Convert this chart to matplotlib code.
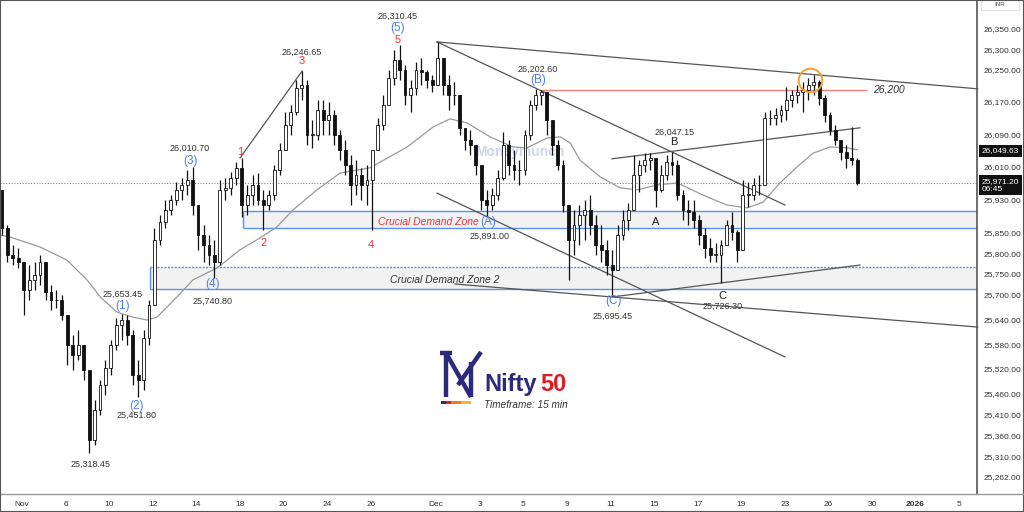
import matplotlib
matplotlib.use('Agg')
import matplotlib.pyplot as plt
import numpy as np
from matplotlib.ticker import FixedLocator, NullLocator
from matplotlib.lines import Line2D
from matplotlib.patches import Rectangle

plt.rcParams['font.family'] = ['Liberation Sans', 'DejaVu Sans']

# ---------------- data ----------------
BARS_PER_DAY = 4
first_day = -1            # trading-day index of first bar (Oct 31)
first_open = 25954

highs = [
    25954, 25868, 25820, 25813,
    25730, 25771, 25779, 25796,
    25779, 25723, 25711, 25699,
    25643, 25602, 25614, 25578,
    25506, 25446, 25494, 25542,
    25590, 25643, 25653.45, 25650,
    25614, 25542, 25614, 25686,
    25861, 25893, 25929, 25942,
    25973, 25983, 26003, 26010.7,
    25917, 25868, 25844, 25832,
    25978, 25983, 25998, 26022,
    26032, 25966, 25991, 25995,
    25954, 25954, 26015, 26069,
    26145, 26162, 26224, 26246.65,
    26224, 26125, 26175, 26175,
    26170, 26150, 26101, 26076,
    26039, 26027, 26008, 26015,
    26052, 26130, 26187, 26249,
    26298, 26310.45, 26261, 26224,
    26268, 26278, 26249, 26236,
    26318, 26278, 26236, 26219,
    26187, 26106, 26101, 26064,
    26015, 25954, 25959, 26003,
    26096, 26076, 26052, 26027,
    26101, 26175, 26202.6, 26200,
    26194, 26113, 26076, 26027,
    25917, 25905, 25917, 25929,
    25942, 25893, 25868, 25832,
    25808, 25868, 25905, 25922,
    26039, 26027, 26044, 26045,
    26032, 26015, 26039, 26047.15,
    26027, 25954, 25929, 25929,
    25893, 25861, 25837, 25825,
    25832, 25881, 25900, 25856,
    25978, 25973, 25983, 25991,
    26145, 26150, 26155, 26162,
    26207, 26199, 26212, 26219,
    26229, 26236, 26224, 26187,
    26145, 26113, 26076, 26064,
    26108, 26032,
]
lows = [
    25844, 25779, 25771, 25764,
    25650, 25686, 25711, 25723,
    25686, 25662, 25667, 25638,
    25530, 25518, 25542, 25494,
    25318.45, 25338, 25410, 25458,
    25506, 25566, 25590, 25578,
    25482, 25451.8, 25470, 25578,
    25779, 25820, 25861, 25893,
    25917, 25929, 25942, 25893,
    25808, 25779, 25771, 25740.8,
    25771, 25929, 25942, 25966,
    25888, 25893, 25917, 25917,
    25856, 25905, 25929, 25991,
    26052, 26089, 26138, 26175,
    26064, 26057, 26076, 26089,
    26089, 26064, 26027, 25991,
    25917, 25942, 25929, 25917,
    25856, 26052, 26101, 26162,
    26212, 26224, 26162, 26145,
    26187, 26212, 26204, 26194,
    26261, 26187, 26150, 26162,
    26089, 26052, 26039, 25991,
    25905, 25891.0, 25905, 25929,
    25978, 25991, 25978, 25966,
    25991, 26076, 26150, 26162,
    26089, 26039, 26003, 25900,
    25735, 25796, 25820, 25832,
    25844, 25796, 25779, 25747,
    25695.45, 25759, 25832, 25856,
    25905, 25949, 25998, 26003,
    25912, 25949, 25978, 25991,
    25929, 25881, 25868, 25861,
    25820, 25788, 25779, 25779,
    25726.3, 25820, 25832, 25779,
    25876, 25912, 25929, 25942,
    26052, 26113, 26113, 26120,
    26125, 26157, 26167, 26145,
    26175, 26187, 26162, 26120,
    26089, 26064, 26027, 26008,
    26015, 25966,
]
closes = [
    25861, 25796, 25788, 25779,
    25711, 25735, 25747, 25779,
    25706, 25686, 25686, 25650,
    25578, 25554, 25578, 25518,
    25350, 25422, 25482, 25523,
    25578, 25626, 25638, 25602,
    25506, 25494, 25595, 25674,
    25832, 25876, 25905, 25929,
    25954, 25966, 25978, 25917,
    25844, 25820, 25796, 25779,
    25954, 25959, 25983, 26008,
    25917, 25942, 25966, 25929,
    25917, 25942, 26003, 26052,
    26113, 26145, 26204, 26212,
    26089, 26089, 26150, 26125,
    26138, 26089, 26052, 26015,
    25966, 25991, 25966, 25978,
    26052, 26113, 26162, 26229,
    26273, 26249, 26187, 26204,
    26249, 26244, 26224, 26212,
    26278, 26212, 26187, 26187,
    26106, 26076, 26064, 26015,
    25929, 25917, 25942, 25983,
    26064, 26015, 26003, 26003,
    26089, 26162, 26187, 26194,
    26125, 26064, 26015, 25917,
    25832, 25868, 25893, 25905,
    25868, 25820, 25808, 25771,
    25759, 25844, 25881, 25905,
    25991, 26015, 26027, 26032,
    25954, 25991, 26022, 26015,
    25942, 25905, 25900, 25881,
    25844, 25813, 25796, 25796,
    25820, 25868, 25851, 25808,
    25942, 25942, 25966, 25966,
    26130, 26130, 26138, 26150,
    26175, 26187, 26194, 26199,
    26212, 26219, 26179, 26138,
    26101, 26076, 26047, 26032,
    26027, 25971.2,
]

# moving average (day index, price)
ma_days = [-0.96, -0.5, 0.87, 2.11, 3.03, 3.63, 4.41, 5.14, 5.78, 6.24, 7.16, 7.89,
           9.0, 10.05, 10.97, 11.75, 12.48, 13.58, 14.64, 16.02, 17.72, 18.91, 19.69,
           20.47, 21.52, 22.58, 23.22, 24.14, 24.74, 25.2, 25.65, 26.57, 27.49, 28.27,
           29.19, 30.11, 31.48, 32.4, 33.32, 34.05, 34.83, 35.61, 36.35, 37.13, 37.91, 38.37]
ma_vals = [25844, 25839, 25815, 25783, 25735, 25694, 25657, 25645, 25638, 25645, 25694, 25735,
           25764, 25808, 25837, 25864, 25905, 25954, 25995, 26008, 26059, 26108, 26128,
           26118, 26084, 26059, 26057, 26081, 26084, 26069, 26027, 25986, 25959, 25954,
           25966, 25971, 25937, 25917, 25910, 25924, 25971, 26010, 26044, 26059, 26057, 26052]
ma_last = 26049.63
last_price = 25971.20

# demand zones (start day, low, high)
zone1 = (10.19, 25861, 25902)
zone2 = (5.92, 25712, 25766)
level_26200 = 26200
level_start, level_end = 23.82, 38.82

# trend lines: ((day0, price0), (day1, price1))
trend_lines = [
    ((19.09, 26318), (43.9, 26202)),
    ((19.09, 26318), (35.06, 25917)),
    ((10.05, 26032), (12.90, 26246)),
    ((19.09, 25946), (35.06, 25549)),
    ((19.92, 25725), (43.9, 25621)),
    ((27.17, 25694), (38.50, 25771)),
    ((27.12, 26030), (38.50, 26106)),
]

# labels: (text, day, price, kind)
labels = [
    ('26,010.70', 7.76, 26056, 'num'), ('(3)', 7.80, 26025, 'blue'),
    ('1', 10.05, 26047, 'red'),
    ('26,246.65', 12.90, 26291, 'num'), ('3', 12.90, 26271, 'red'),
    ('2', 11.11, 25825, 'red'),
    ('25,653.45', 4.68, 25701, 'num'), ('(1)', 4.64, 25672, 'blue'),
    ('(2)', 5.32, 25431, 'blue'), ('25,451.80', 5.28, 25408, 'num'),
    ('25,318.45', 3.17, 25293, 'num'),
    ('(4)', 8.77, 25725, 'blue'), ('25,740.80', 8.77, 25682, 'num'),
    ('26,310.45', 17.30, 26382, 'num'), ('(5)', 17.30, 26352, 'blue'),
    ('5', 17.30, 26323, 'red'),
    ('4', 16.06, 25820, 'red'),
    ('26,202.60', 23.73, 26249, 'num'), ('(B)', 23.73, 26224, 'blue'),
    ('(A)', 21.43, 25876, 'blue'), ('25,891.00', 21.52, 25842, 'num'),
    ('26,047.15', 30.01, 26096, 'num'), ('B', 29.97, 26071, 'black'),
    ('A', 29.14, 25876, 'black'),
    ('C', 32.17, 25696, 'black'), ('25,726.30', 32.21, 25670, 'num'),
    ('(C)', 27.17, 25685, 'blue'), ('25,695.45', 27.17, 25646, 'num'),
]
circle_day, circle_price = 36.21, 26224

ytick_vals = [26350, 26300, 26250, 26170, 26090, 26010, 25930, 25850, 25800, 25750,
              25700, 25640, 25580, 25520, 25460, 25410, 25360, 25310, 25262]
xtick_days = [0, 2, 4, 6, 8, 10, 12, 14, 16, 19, 21, 23, 25, 27, 29, 31, 33, 35, 37, 39, 41, 43]
xtick_labels = ['Nov', '6', '10', '12', '14', '18', '20', '24', '26', 'Dec', '3', '5', '9',
                '11', '15', '17', '19', '23', '26', '30', '2026', '5']

# ---------------- figure ----------------
W, H = 1024, 512
fig = plt.figure(figsize=(W / 100, H / 100), dpi=100)
fig.patch.set_facecolor('white')
ax = fig.add_axes([0, 18 / H, 977 / W, 494 / H])
ax.set_yscale('log')
XMIN, XMAX = -0.964, 43.87
ax.set_xlim(XMIN, XMAX)
ax.set_ylim(25221.6, 26422)

BLUE_LINE = '#5b8ff0'
# zones
for (zs, zl, zh), dotted_top in ((zone1, False), (zone2, True)):
    ax.add_patch(Rectangle((zs, zl), XMAX + 1 - zs, zh - zl, facecolor='#f2f2f2',
                           edgecolor='none', zorder=1))
    ax.hlines(zl, zs, XMAX + 1, colors=BLUE_LINE, lw=1.0, zorder=2)
    ax.hlines(zh, zs, XMAX + 1, colors=BLUE_LINE, lw=1.0, zorder=2,
              linestyles=(0, (1.5, 1)) if dotted_top else 'solid')
    ax.vlines(zs, zl, zh, colors=BLUE_LINE, lw=1.0, zorder=2)

ax.text(16.38, 25876, 'Crucial Demand Zone', color='#f0323c', style='italic',
        fontsize=7.5, ha='left', va='center', zorder=6)
ax.text(16.94, 25735, 'Crucial Demand Zone 2', color='#333333', style='italic',
        fontsize=7.5, ha='left', va='center', zorder=6)

# current price dotted line
ax.axhline(last_price, color='#888888', lw=0.8, ls=(0, (1, 1.5)), zorder=1.5)

# watermark
ax.text(520 / W, 1 - 152 / H, 'Moneymunch', transform=fig.transFigure, color='#c5cbe2',
        fontsize=10, fontweight='bold', ha='center', va='center', alpha=0.8, zorder=0.5)

# moving average
ax.plot(ma_days, ma_vals, color='#9a9a9a', lw=0.9, zorder=3)

# trend lines
for (d0, p0), (d1, p1) in trend_lines:
    ax.plot([d0, d1], [p0, p1], color='#555555', lw=0.9, zorder=3.5, clip_on=False)

# 26200 level
ax.hlines(level_26200, level_start, level_end, colors='#f08080', lw=1.0, zorder=3)
ax.text(level_end + 0.28, level_26200, '26,200', color='#333333', style='italic',
        fontsize=7.5, ha='left', va='center', zorder=6)

# candles
n = len(closes)
xs = np.array([first_day + i // BARS_PER_DAY + (i % BARS_PER_DAY + 0.5) / BARS_PER_DAY
               for i in range(n)])
c = np.array(closes, dtype=float)
o = np.array([first_open] + closes[:-1], dtype=float)
h = np.maximum(np.array(highs, dtype=float), np.maximum(o, c))
l = np.minimum(np.array(lows, dtype=float), np.minimum(o, c))
ax.vlines(xs, l, h, color='#111111', lw=0.9, zorder=4)
up = c >= o
bot = np.minimum(o, c)
hgt = np.maximum(np.abs(c - o), 0.8)
ax.bar(xs[up], hgt[up], bottom=bot[up], width=0.13, color='#ffffff', edgecolor='#111111',
       lw=0.6, zorder=5)
ax.bar(xs[~up], hgt[~up], bottom=bot[~up], width=0.13, color='#111111', edgecolor='#111111',
       lw=0.6, zorder=5)

# circle
ax.plot(circle_day, circle_price, marker='o', ms=17, mfc='none', mec='#f5a033', mew=1.4,
        zorder=7)

# labels
styles = {
    'num': dict(color='#333333', fontsize=6.5),
    'blue': dict(color='#4d7ef7', fontsize=8.5),
    'red': dict(color='#f0323c', fontsize=8),
    'black': dict(color='#222222', fontsize=8),
}
for txt, d, p, kind in labels:
    ax.text(d, p, txt, ha='center', va='center', zorder=8, clip_on=False, **styles[kind])

# axes styling
for s in ('top', 'left'):
    ax.spines[s].set_visible(False)
ax.spines['right'].set_color('#555555')
ax.spines['right'].set_linewidth(1.2)
ax.spines['bottom'].set_color('#999999')
ax.spines['bottom'].set_linewidth(1.0)

ax.yaxis.tick_right()
ax.yaxis.set_major_locator(FixedLocator(ytick_vals))
ax.yaxis.set_minor_locator(NullLocator())
ax.set_yticklabels([f'{v:,.2f}' for v in ytick_vals])
ax.tick_params(axis='y', length=0, pad=5, labelsize=6, labelcolor='#333333')

ax.set_xticks([d + 0.05 for d in xtick_days])
ax.set_xticklabels(xtick_labels)
ax.xaxis.set_minor_locator(NullLocator())
ax.tick_params(axis='x', length=0, pad=5, labelsize=6, labelcolor='#333333')
for t in ax.get_xticklabels():
    if t.get_text() == '2026':
        t.set_fontweight('bold')

# price tags on the axis
ax.annotate(f'{ma_last:,.2f}', xy=(1, ma_last), xycoords=('axes fraction', 'data'),
            xytext=(3.5, 0), textcoords='offset points', ha='left', va='center',
            fontsize=6, color='white', annotation_clip=False, zorder=10,
            bbox=dict(boxstyle='square,pad=0.3', fc='#111111', ec='none'))
ax.annotate(f'{last_price:,.2f}\n06:45', xy=(1, last_price), xycoords=('axes fraction', 'data'),
            xytext=(3.5, 3.5), textcoords='offset points', ha='left', va='top',
            fontsize=6, color='white', annotation_clip=False, zorder=10, linespacing=1.2,
            bbox=dict(boxstyle='square,pad=0.3', fc='#111111', ec='none'))

# figure decorations
def fx(x):
    return x / W

def fy(y):
    return 1 - y / H

fig.add_artist(Line2D([fx(977), fx(1024)], [fy(494), fy(494)], color='#999999', lw=1.0))
fig.add_artist(Rectangle((fx(981), fy(10)), fx(38), 10 / H, facecolor='white',
                         edgecolor='#dddddd', lw=0.6))
fig.text(fx(1000), fy(4), 'INR', fontsize=4.5, color='#555555', ha='center', va='center')

# logo
NAVY = '#2d2a7c'
for (x0, y0), (x1, y1) in [((446, 353), (446, 397)), ((446, 353), (471, 397)),
                           ((471, 362), (471, 397)), ((481, 352), (458, 385)),
                           ((440, 353), (452, 353))]:
    fig.add_artist(Line2D([fx(x0), fx(x1)], [fy(y0), fy(y1)], color=NAVY, lw=3.2,
                          solid_capstyle='butt'))
for x0, x1, col in [(441, 446, NAVY), (446, 451, '#e11b22'), (451, 461, '#f07a20'),
                    (461, 471, '#f5b335')]:
    fig.add_artist(Rectangle((fx(x0), fy(404)), fx(x1 - x0), 3 / H, facecolor=col,
                             edgecolor='none'))
fig.text(fx(484), fy(391), 'Nifty', color=NAVY, fontsize=17, fontweight='bold',
         ha='left', va='baseline')
fig.text(fx(540), fy(391), '50', color='#e11b22', fontsize=17, fontweight='bold',
         ha='left', va='baseline')
fig.text(fx(484), fy(405), 'Timeframe: 15 min', color='#333333', fontsize=7.2,
         style='italic', ha='left', va='center')

fig.add_artist(Rectangle((0, 0), 1, 1, transform=fig.transFigure, fill=False,
                         edgecolor='#555555', lw=1.5))

fig.savefig('out.png', dpi=100, facecolor='white')
